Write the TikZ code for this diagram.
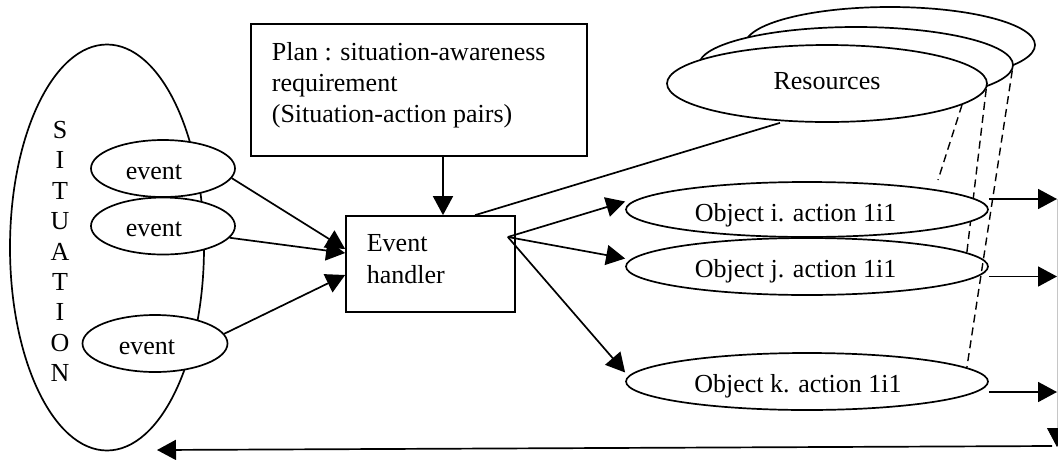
\documentclass[tikz,border=0pt]{standalone}
\usepackage{fontspec}
\setmainfont{Liberation Serif}
\usetikzlibrary{shapes.geometric, arrows.meta, backgrounds}

\begin{document}
\begin{tikzpicture}[x=1pt, y=-1pt,
  every node/.style={font=\fontsize{26}{30.7}\selectfont},
  line width=1.7pt,
  ell/.style={draw, ellipse, fill=white, inner sep=0pt},
  boxnode/.style={draw, rectangle, inner sep=0pt},
  txt/.style={inner sep=0pt, align=left},
  arr/.style={-{Triangle[length=19pt,width=20pt]}},
  dash line/.style={dash pattern=on 8pt off 5pt, line width=1.4pt}
]
\useasboundingbox (0,0) rectangle (1058,459);

% the situation with its events
\node[ell, minimum width=194pt, minimum height=406pt] (sit) at (107,247.5) {};
\node[inner sep=0pt, align=center, font=\fontsize{26}{30.4}\selectfont] (sitlbl) at (60,251.5)
  {S\\I\\T\\U\\A\\T\\I\\O\\N};
\node[ell, minimum width=144pt, minimum height=57pt,
  label={[xshift=-9pt, yshift=-4pt]center:event}] (ev1) at (163,168.5) {};
\node[ell, minimum width=144pt, minimum height=57pt,
  label={[xshift=-9pt, yshift=-3pt]center:event}] (ev2) at (163,226) {};
\node[ell, minimum width=145pt, minimum height=57pt,
  label={[xshift=-8pt, yshift=-4pt]center:event}] (ev3) at (155,343.5) {};

% plan and event handler
\node[boxnode, minimum width=336pt, minimum height=132pt] (plan) at (419,90) {};
\node[txt, anchor=north west] (plantxt) at (271,42)
  {Plan : situation-awareness\\requirement\\(Situation-action pairs)};
\node[boxnode, minimum width=169pt, minimum height=96pt] (handler) at (430.5,264) {};
\node[txt, anchor=north west, font=\fontsize{26}{32}\selectfont] (handlertxt) at (366,233.5)
  {Event\\handler};

% stacked resources
\node[ell, minimum width=290pt, minimum height=76pt] (resC) at (890,45) {};
\node[ell, minimum width=314pt, minimum height=76pt] (resB) at (856,65) {};
\node[ell, minimum width=320pt, minimum height=77pt,
  label={[yshift=2pt]center:Resources}] (res) at (827,83.5) {};

% objects and their actions
\node[ell, minimum width=362pt, minimum height=55pt,
  label={[xshift=-11.5pt, yshift=-5.4pt]center:Object i. action 1i1}] (obi) at (807,209.5) {};
\node[ell, minimum width=362pt, minimum height=57pt,
  label={[xshift=-11.5pt, yshift=-5pt]center:Object j. action 1i1}] (obj) at (807,266.5) {};
\node[ell, minimum width=362pt, minimum height=57pt,
  label={[xshift=-9pt, yshift=-5pt]center:Object k. action 1i1}] (obk) at (807,381.5) {};

% free ends
\coordinate (hout) at ([xshift=-8pt, yshift=27pt]handler.east);
\coordinate (d1end) at (938,180);
\coordinate (ri) at (1057,199);
\coordinate (rj) at (1057,276.5);
\coordinate (rk) at (1057,392);
\coordinate (rb) at (1057,447);
\coordinate (bR) at (1052,446);
\coordinate (bL) at (157,450);

% resource links running behind the objects
\begin{scope}[on background layer]
  \draw[dash line] (res.-9.4) -- (d1end);
  \draw[dash line] (res.-2.4) -- (obj.5.3);
\end{scope}
\draw[dash line] (resB.-2) -- (obk.5.3);

% events into the handler
\draw[arr] (ev1.-8) -- ([yshift=15pt]handler.west);
\draw[arr] (ev2.-10) -- ([yshift=11pt]handler.west);
\draw[arr] (ev3.8) -- ([yshift=-11pt]handler.west);
\draw[arr] ([xshift=12.5pt]handler.north |- plan.south) -- ([xshift=12.5pt]handler.north);
\draw ([xshift=44.5pt]handler.north) -- ([xshift=-47pt]res.south);

% handler to objects
\draw[arr] (hout) -- ([yshift=8pt]obi.west);
\draw[arr] (hout) -- ([yshift=8pt]obj.west);
\draw[arr] (hout) -- ([yshift=9pt]obk.west);

% outputs and feedback
\draw[arr] ([yshift=10.5pt]obi.east) -- (ri);
\draw[arr] ([yshift=-10pt]obj.east) -- (rj);
\draw[arr] ([yshift=-10.5pt]obk.east) -- (rk);
\draw[gray!45, line width=0.8pt, -{Triangle[length=19pt,width=20pt,color=black]}] (ri) -- (rb);
\draw[arr] (bR) -- (bL);
\end{tikzpicture}
\end{document}
